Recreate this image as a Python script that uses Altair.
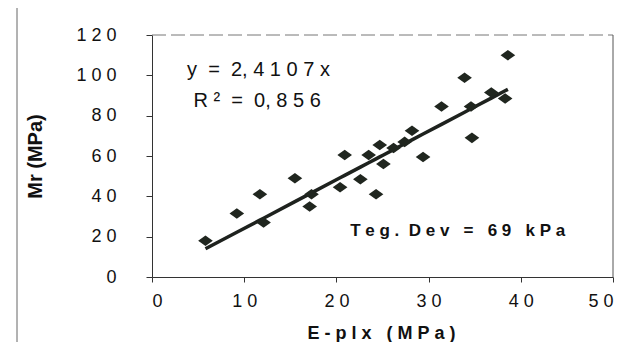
import altair as alt
import pandas as pd

# Data
e_plx = [5.8, 9.2, 11.7, 12.1, 15.5, 17.1, 17.3, 20.4, 20.9, 22.6, 23.5, 24.3, 24.7,
         25.1, 26.2, 27.4, 28.2, 29.4, 31.4, 33.9, 34.6, 34.7, 36.8, 38.3, 38.6]
mr = [18, 31.5, 41, 27, 49, 35, 41, 44.5, 60.5, 48.5, 60.5, 41, 65.5,
      56, 64, 67, 72.5, 59.5, 84.5, 98.8, 84.5, 69, 91.5, 88.5, 110]
slope = 2.4107
x_ticks = [0, 10, 20, 30, 40, 50]
y_ticks = [0, 20, 40, 60, 80, 100, 120]

NB = "\u00a0"
eq_text = "y  =  2, 4 1 0 7 x".replace(" ", NB)
r2_text = "R ²  =  0, 8 5 6".replace(" ", NB)
dev_text = "T e g .  D e v   =   6 9   k P a".replace(" ", NB)
x_title = "E - p l x   ( M P a )".replace(" ", NB)
y_title = "Mr (MPa)"

df = pd.DataFrame({"x": e_plx, "y": mr})

FONT = "Liberation Sans"
INK = "#111111"

xscale = alt.Scale(domain=[0, 50], nice=False, zero=False)
yscale = alt.Scale(domain=[0, 120], nice=False, zero=False)

spaced = "join(split(datum.label, ''), ' ')"

xaxis = alt.Axis(values=x_ticks, grid=False, labelExpr=spaced, labelFontSize=18,
                 labelFont=FONT, labelColor=INK, labelPadding=10, tickSize=5,
                 title=x_title, titleFont=FONT, titleFontSize=18,
                 titleFontWeight="bold", titleColor=INK, titleX=229, titleY=56,
                 titleBaseline="middle", domainColor="#333", tickColor="#333")
yaxis = alt.Axis(values=y_ticks, grid=False, labelExpr=spaced, labelFontSize=18,
                 labelFont=FONT, labelColor=INK, labelPadding=30, tickSize=6,
                 title=y_title, titleFont=FONT, titleFontSize=20,
                 titleFontWeight="bold", titleColor=INK, titleX=-117, titleY=121,
                 titleAngle=270, titleAlign="center", titleBaseline="middle",
                 domainColor="#333", tickColor="#333")

base = alt.Chart(df)

fit = base.transform_calculate(fit=f"{slope} * datum.x").mark_line(
    color="#1e221e", strokeWidth=3.5
).encode(
    x=alt.X("x:Q", scale=xscale, axis=xaxis),
    y=alt.Y("fit:Q", scale=yscale, axis=yaxis),
)

points = base.mark_point(
    shape="M-1,0L0,-0.72L1,0L0,0.72Z", filled=True, size=215, color="#20261f",
    opacity=1
).encode(
    x=alt.X("x:Q", scale=xscale),
    y=alt.Y("y:Q", scale=yscale),
)

def label(txt, x, y, size, weight="normal"):
    return alt.Chart(pd.DataFrame({"t": [txt]})).mark_text(
        align="left", baseline="alphabetic", font=FONT, fontSize=size,
        fontWeight=weight, color=INK
    ).encode(x=alt.datum(x, scale=xscale), y=alt.datum(y, scale=yscale), text="t:N")

eq = label(eq_text, 3.8, 99.5, 20)
r2 = label(r2_text, 4.5, 84.5, 20)
dev = label(dev_text, 21.5, 20.3, 17, "bold")

top_border = alt.Chart(pd.DataFrame({"a": [0]})).mark_rule(
    color="#777", strokeWidth=1, strokeDash=[14, 5]
).encode(x=alt.datum(0, scale=xscale), x2=alt.datum(50), y=alt.datum(120, scale=yscale))
right_border = alt.Chart(pd.DataFrame({"a": [0]})).mark_rule(
    color="#555", strokeWidth=1
).encode(x=alt.datum(50, scale=xscale), y=alt.datum(0, scale=yscale), y2=alt.datum(120))
outer_left = alt.Chart(pd.DataFrame({"a": [0]})).mark_rule(
    color="#666", strokeWidth=1
).encode(x=alt.value(-135), y=alt.value(-28), y2=alt.value(310))

chart = alt.layer(
    top_border, right_border, outer_left, fit, points, eq, r2, dev
).properties(
    width=461, height=242,
    padding={"left": 144, "top": 27, "right": 22, "bottom": 65},
    autosize=alt.AutoSizeParams(type="none"),
    background="white",
).configure_view(stroke=None)

chart.save("out.html", embed_options={"renderer": "svg", "actions": False})
